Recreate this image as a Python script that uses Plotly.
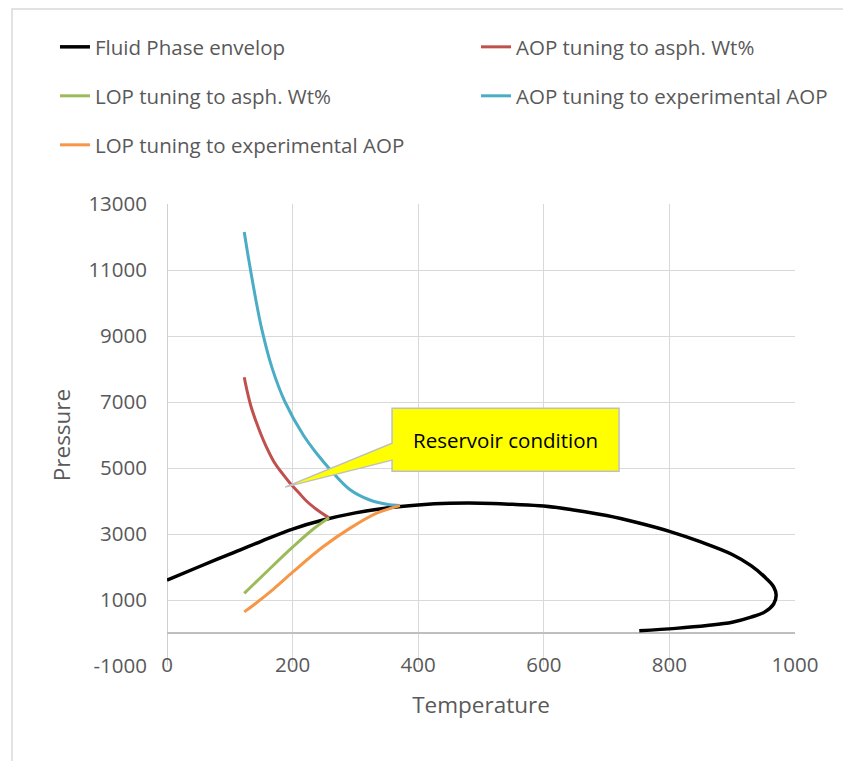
import plotly.graph_objects as go

# Fluid phase envelope (temperature, pressure)
envelope_T = [0, 50, 100, 150, 200, 250, 300, 350, 400, 450, 500, 550, 600, 650, 700,
              750, 800, 850, 900, 930, 955, 966, 970, 966, 952, 930, 900, 860, 810, 752]
envelope_P = [1600, 2000, 2390, 2780, 3150, 3430, 3640, 3790, 3880, 3930, 3935, 3900, 3850, 3720, 3560,
              3340, 3080, 2760, 2380, 2040, 1640, 1400, 1150, 880, 640, 480, 325, 225, 140, 70]

# AOP tuning to asphaltene wt%
aop_wt_T = [123, 128, 134, 142, 150, 158, 170, 183, 196, 210, 222, 240, 258]
aop_wt_P = [7750, 7300, 6850, 6400, 6000, 5650, 5200, 4850, 4540, 4250, 4000, 3720, 3490]

# LOP tuning to asphaltene wt%
lop_wt_T = [123, 160, 200, 233, 258]
lop_wt_P = [1200, 1880, 2600, 3150, 3490]

# AOP tuning to experimental AOP
aop_exp_T = [123, 130, 140, 151, 167, 188, 217, 240, 260, 291, 323, 350, 371]
aop_exp_P = [12150, 11330, 10250, 9200, 8050, 7000, 6000, 5400, 4950, 4350, 4030, 3900, 3860]

# LOP tuning to experimental AOP
lop_exp_T = [123, 140, 170, 201, 249, 291, 334, 371]
lop_exp_P = [640, 880, 1340, 1860, 2620, 3170, 3630, 3860]

# Reservoir condition
reservoir_T = 188
reservoir_P = 4420

# Axis ticks
x_ticks = [0, 200, 400, 600, 800, 1000]
y_ticks = [-1000, 1000, 3000, 5000, 7000, 9000, 11000, 13000]
y_tick_text = ["-1000", "1000", "3000", "5000", "7000", "9000", "11000", "13000"]

# name, T, P, colour, width, legend id, legend x (paper), legend y (paper)
series = [
    ("Fluid Phase envelop", envelope_T, envelope_P, "#000000", 3.5, "legend", -0.1784, 1.3398),
    ("AOP tuning to asph. Wt%", aop_wt_T, aop_wt_P, "#C0504D", 3, "legend2", 0.4920, 1.3398),
    ("LOP tuning to asph. Wt%", lop_wt_T, lop_wt_P, "#9BBB59", 3, "legend3", -0.1784, 1.2338),
    ("AOP tuning to experimental AOP", aop_exp_T, aop_exp_P, "#4BACC6", 3, "legend4", 0.4920, 1.2338),
    ("LOP tuning to experimental AOP", lop_exp_T, lop_exp_P, "#F79646", 3, "legend5", -0.1784, 1.1277),
]

FONT = "Open Sans"
GREY = "#595959"

fig = go.Figure()
legends = {}
for name, xs, ys, color, width, leg, lx, ly in series:
    fig.add_trace(go.Scatter(
        x=xs, y=ys, name=name, mode="lines",
        line=dict(color=color, width=width, shape="spline", smoothing=1.0),
        legend=leg,
    ))
    legends[leg] = dict(
        orientation="h", xanchor="left", yanchor="middle", x=lx, y=ly,
        font=dict(family=FONT, size=20.5, color=GREY),
        bgcolor="rgba(0,0,0,0)",
    )

fig.update_layout(
    width=843, height=761,
    margin=dict(l=167, r=48, t=204, b=95, autoexpand=False),
    paper_bgcolor="white", plot_bgcolor="white",
    font=dict(family=FONT, color=GREY),
    showlegend=True,
    **legends,
    xaxis=dict(
        range=[0, 1000], tickvals=x_ticks,
        showgrid=True, gridcolor="#d9d9d9", gridwidth=1,
        zeroline=True, zerolinecolor="#d0d0d0", zerolinewidth=1,
        showline=False, ticks="",
        ticklabelstandoff=-16,
        tickfont=dict(family=FONT, size=20.5, color=GREY),
        title=dict(text="Temperature", font=dict(family=FONT, size=22.5, color=GREY), standoff=20),
    ),
    yaxis=dict(
        range=[-1000, 13000], tickvals=y_ticks, ticktext=y_tick_text,
        showgrid=True, gridcolor="#d9d9d9", gridwidth=1,
        zeroline=True, zerolinecolor="#bfbfbf", zerolinewidth=2,
        showline=False, ticks="",
        ticklabelstandoff=19,
        tickfont=dict(family=FONT, size=20.5, color=GREY),
        title=dict(text="Pressure", font=dict(family=FONT, size=22.5, color=GREY), standoff=11),
    ),
)

# Chart border
fig.add_shape(type="rect", xref="paper", yref="paper",
              x0=-0.2468, y0=1.4221, x1=1.3, y1=-0.4,
              line=dict(color="#d9d9d9", width=1.5), fillcolor="rgba(0,0,0,0)", layer="below")

# Callout pointing at the reservoir condition
fig.add_shape(
    type="path", xref="x", yref="y",
    xsizemode="pixel", ysizemode="pixel",
    xanchor=reservoir_T, yanchor=reservoir_P,
    path="M0,0 L107,27 L107,16 L334,16 L334,79 L107,79 L107,44 Z",
    fillcolor="#ffff00", line=dict(color="#bfbfbf", width=1.5), layer="above",
)
fig.add_annotation(
    x=reservoir_T, y=reservoir_P, xref="x", yref="y",
    xshift=220.5, yshift=47.5, showarrow=False,
    text="Reservoir condition", xanchor="center", yanchor="middle",
    font=dict(family=FONT, size=20.5, color="#000000"),
)

fig.write_html("out.html")
